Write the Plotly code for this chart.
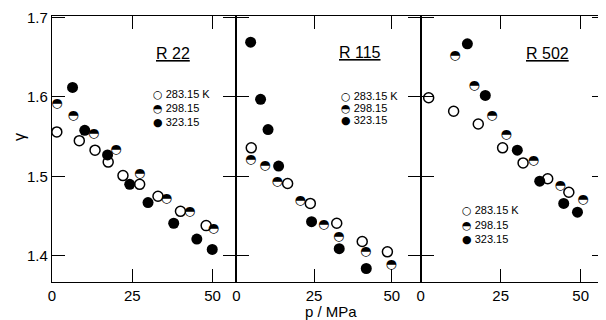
import plotly.graph_objects as go
from plotly.subplots import make_subplots

# ---------------- data ----------------
panels = ["R 22", "R 115", "R 502"]
temps = ["283.15 K", "298.15", "323.15"]

# R 22
r22_p_283 = [1.5, 8.5, 13.4, 17.5, 22.1, 27.3, 33.0, 40.0, 48.0]
r22_g_283 = [1.556, 1.545, 1.533, 1.518, 1.501, 1.490, 1.475, 1.456, 1.438]
r22_p_298 = [1.5, 6.6, 13.0, 19.9, 27.3, 35.6, 42.9, 50.3]
r22_g_298 = [1.591, 1.577, 1.554, 1.533, 1.503, 1.472, 1.456, 1.434]
r22_p_323 = [6.4, 10.2, 17.3, 24.2, 29.9, 37.9, 45.1, 49.9]
r22_g_323 = [1.612, 1.558, 1.527, 1.490, 1.467, 1.441, 1.421, 1.408]

# R 115
r115_p_283 = [4.8, 16.5, 23.8, 32.3, 40.5, 48.6]
r115_g_283 = [1.536, 1.491, 1.466, 1.441, 1.418, 1.405]
r115_p_298 = [4.6, 9.2, 13.1, 20.5, 28.1, 32.9, 41.6, 49.8]
r115_g_298 = [1.521, 1.513, 1.493, 1.469, 1.439, 1.424, 1.405, 1.389]
r115_p_323 = [4.6, 7.8, 10.2, 13.6, 24.2, 33.1, 41.8]
r115_g_323 = [1.669, 1.597, 1.559, 1.513, 1.443, 1.409, 1.384]

# R 502
r502_p_283 = [2.5, 10.3, 18.0, 25.6, 32.0, 39.7, 46.3]
r502_g_283 = [1.599, 1.582, 1.566, 1.536, 1.517, 1.497, 1.480]
r502_p_298 = [10.7, 16.7, 22.3, 26.7, 35.2, 43.6, 50.7]
r502_g_298 = [1.652, 1.614, 1.577, 1.553, 1.520, 1.488, 1.471]
r502_p_323 = [14.6, 20.2, 30.2, 37.2, 44.7, 49.0]
r502_g_323 = [1.667, 1.602, 1.533, 1.494, 1.466, 1.455]

x_tick_vals = [0, 25, 50]
y_tick_vals = [1.4, 1.5, 1.6, 1.7]
y_tick_text = ["1.4", "1.5", "1.6", "1.7"]
x_ranges = [[0, 57.4], [0, 59.3], [0, 57.6]]
y_range = [1.367, 1.702]

data = [
    (r22_p_283, r22_g_283, r22_p_298, r22_g_298, r22_p_323, r22_g_323),
    (r115_p_283, r115_g_283, r115_p_298, r115_g_298, r115_p_323, r115_g_323),
    (r502_p_283, r502_g_283, r502_p_298, r502_g_298, r502_p_323, r502_g_323),
]

FONT = "Liberation Sans"
# the page body has an 8px default margin, so the figure is offset by (8, 8)
OFF = 8
W, H = 598, 312
ML, MR, MT, MB = 44, 1, 8, 38
PW = W - ML - MR
PH = H - MT - MB
PLOT_L = OFF + ML
PLOT_B = OFF + H - MB

fig = make_subplots(rows=1, cols=3, horizontal_spacing=0, shared_yaxes=False)

for i, (p283, g283, p298, g298, p323, g323) in enumerate(data):
    col = i + 1
    fig.add_trace(go.Scatter(x=p283, y=g283, mode="markers",
                             marker=dict(symbol="circle", size=10, color="white",
                                         line=dict(color="black", width=1.5)),
                             showlegend=False, cliponaxis=False), row=1, col=col)
    fig.add_trace(go.Scatter(x=p298, y=g298, mode="text", text=["◓"] * len(p298),
                             textposition="middle center",
                             textfont=dict(family="DejaVu Sans", size=13, color="black"),
                             showlegend=False, cliponaxis=False), row=1, col=col)
    fig.add_trace(go.Scatter(x=p323, y=g323, mode="markers",
                             marker=dict(symbol="circle", size=11, color="black",
                                         line=dict(color="black", width=0)),
                             showlegend=False, cliponaxis=False), row=1, col=col)

for i in range(3):
    col = i + 1
    fig.update_xaxes(range=x_ranges[i], tickvals=x_tick_vals, ticks="inside", ticklen=13,
                     tickwidth=1.3, tickcolor="black", showline=True, linecolor="black",
                     linewidth=1.2, mirror="ticks", showgrid=False, zeroline=False,
                     automargin=False,
                     tickfont=dict(family=FONT, size=15, color="black"), row=1, col=col)
    fig.update_yaxes(range=y_range, tickvals=y_tick_vals, ticktext=y_tick_text,
                     ticks="inside", ticklen=13, tickwidth=1.3, tickcolor="black",
                     showline=True, linecolor="black", linewidth=1.2, mirror="ticks",
                     showgrid=False, zeroline=False, showticklabels=(i == 0),
                     automargin=False,
                     tickfont=dict(family=FONT, size=15, color="black"), row=1, col=col)

def px2paper(px, py):
    return (px - PLOT_L) / PW, (PLOT_B - py) / PH

annotations = []
title_pos = [(173, 53), (360, 52), (547, 53)]
for name, (tx, ty) in zip(panels, title_pos):
    x, y = px2paper(tx, ty)
    annotations.append(dict(text=f"<u>{name}</u>", x=x, y=y, xref="paper", yref="paper",
                            showarrow=False, xanchor="center", yanchor="middle",
                            font=dict(family=FONT, size=16, color="black")))

glyphs = ["○", "◓", "●"]
legend_pos = [
    (151, [95, 108, 122]),
    (339, [96, 108, 120]),
    (460, [211, 225, 239]),
]
for lx, rows in legend_pos:
    for g, t, ry in zip(glyphs, temps, rows):
        x, y = px2paper(lx, ry)
        annotations.append(dict(text=f"<span style='font-family:DejaVu Sans;font-size:11px'>{g}</span> {t}",
                                x=x, y=y, xref="paper", yref="paper", showarrow=False,
                                xanchor="left", yanchor="middle",
                                font=dict(family=FONT, size=11, color="black")))

x, y = px2paper(331, 311)
annotations.append(dict(text="p / MPa", x=x, y=y, xref="paper", yref="paper", showarrow=False,
                        xanchor="center", yanchor="middle",
                        font=dict(family=FONT, size=15, color="black")))
x, y = px2paper(19, 137)
annotations.append(dict(text="γ", x=x, y=y, xref="paper", yref="paper", showarrow=False,
                        xanchor="center", yanchor="middle", textangle=-90,
                        font=dict(family=FONT, size=16, color="black")))

fig.update_layout(width=W, height=H, margin=dict(l=ML, r=MR, t=MT, b=MB),
                  paper_bgcolor="white", plot_bgcolor="white",
                  annotations=annotations, showlegend=False)

fig.write_html("out.html")
